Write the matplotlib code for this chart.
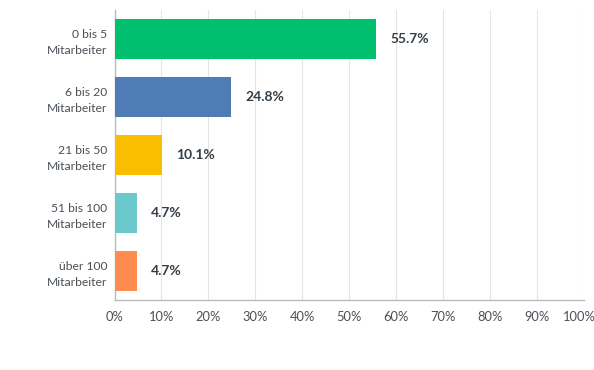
import matplotlib
matplotlib.use("Agg")
import matplotlib.pyplot as plt
import matplotlib.transforms as mtransforms

categories = ["0 bis 5\nMitarbeiter", "6 bis 20\nMitarbeiter", "21 bis 50\nMitarbeiter",
              "51 bis 100\nMitarbeiter", "über 100\nMitarbeiter"]
values = [55.7, 24.8, 10.1, 4.7, 4.7]
colors = ["#00BF6F", "#507CB6", "#F9BE00", "#6BC8CD", "#FF8B4F"]
xticks = list(range(0, 101, 10))

plt.rcParams['font.family'] = ['Lato', 'DejaVu Sans']
fig = plt.figure(figsize=(5.94, 3.70), dpi=100)
ax = fig.add_axes([114.5/594, 1-300/370, (584-114.5)/594, 290/370])

y = list(range(len(categories)))
ax.barh(y, values, height=0.69, color=colors, zorder=3)
for yi, v in zip(y, values):
    ax.annotate(f"{v:.1f}%", (v, yi), xytext=(10.5, 0), textcoords="offset points",
                ha="left", va="center", fontsize=10, fontweight="bold", color="#333e48")

ax.set_xlim(0, 100)
ax.set_ylim(len(categories)-0.5, -0.5)
ax.set_xticks(xticks)
ax.set_xticklabels([f"{t}%" for t in xticks])
ax.set_yticks(y)
ax.set_yticklabels(categories, fontsize=8.7, color="#4a5058", linespacing=1.55)
ax.tick_params(axis="x", length=0, pad=8, labelsize=9.3, labelcolor="#4a5058")
ax.tick_params(axis="y", length=0, pad=5)
last = ax.get_xticklabels()[-1]
last.set_transform(last.get_transform() + mtransforms.ScaledTranslation(-5/100, 0, fig.dpi_scale_trans))
ax.grid(axis="x", color="#e5e5e5", linewidth=0.8, zorder=0)
for s in ["top", "right"]:
    ax.spines[s].set_visible(False)
ax.spines["left"].set_color("#bbbbbb")
ax.spines["bottom"].set_color("#bbbbbb")
ax.spines["left"].set_linewidth(1.0)
ax.spines["bottom"].set_linewidth(1.0)

fig.savefig("out.png", dpi=100)
